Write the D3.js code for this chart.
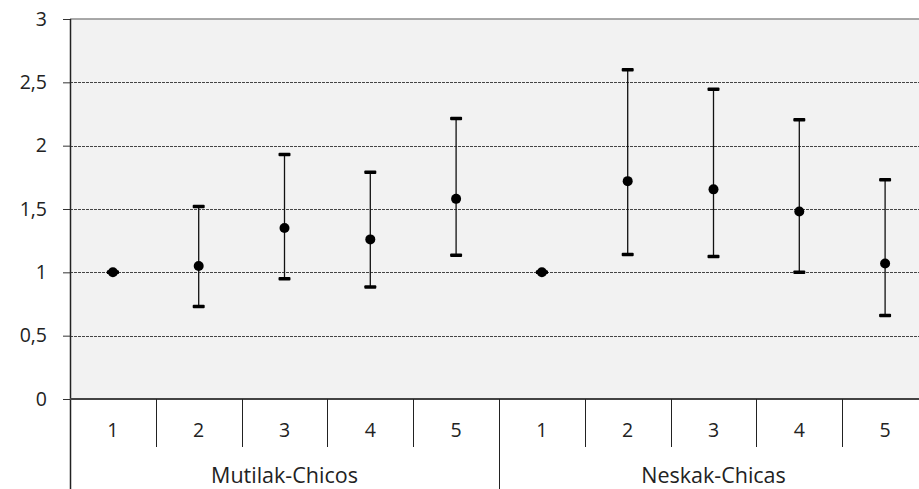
<!DOCTYPE html>
<html>
<head>
<meta charset="utf-8">
<script src="https://cdn.jsdelivr.net/npm/d3@7"></script>
<style>
  html, body { margin: 0; padding: 0; background: #fff; }
  svg { display: block; }
  text { font-family: "Open Sans", "Noto Sans", sans-serif; fill: #222; }
</style>
</head>
<body>
<svg id="chart" width="919" height="489"></svg>
<script>
// Groups and levels along the x axis
const groups = ["Mutilak-Chicos", "Neskak-Chicas"];
const levels = ["1", "2", "3", "4", "5"];

// Point estimate and interval bounds per level, one array per group
const mutilakMean = [1.0, 1.05, 1.35, 1.26, 1.58];
const mutilakLow  = [1.0, 0.73, 0.95, 0.885, 1.135];
const mutilakHigh = [1.0, 1.52, 1.93, 1.79, 2.215];

const neskakMean = [1.0, 1.72, 1.655, 1.48, 1.07];
const neskakLow  = [1.0, 1.14, 1.125, 1.0, 0.66];
const neskakHigh = [1.0, 2.6, 2.445, 2.205, 1.73];

// Y axis tick values
const yTicks = [0, 0.5, 1, 1.5, 2, 2.5, 3];

const means = [mutilakMean, neskakMean];
const lows = [mutilakLow, neskakLow];
const highs = [mutilakHigh, neskakHigh];

const rows = [];
groups.forEach((g, gi) => {
  levels.forEach((l, li) => {
    rows.push({ key: g + "|" + l, group: g, level: l,
      mean: means[gi][li], low: lows[gi][li], high: highs[gi][li] });
  });
});

const svg = d3.select("#chart");
const plotLeft = 70, plotTop = 19, plotBottom = 399, plotRight = 928;
const fontSize = 19.5;

const x = d3.scaleBand().domain(rows.map(d => d.key)).range([plotLeft, plotRight]).padding(0);
const y = d3.scaleLinear().domain([0, 3]).range([plotBottom, plotTop]);

// Plot background
svg.append("rect")
  .attr("x", plotLeft).attr("y", plotTop)
  .attr("width", plotRight - plotLeft).attr("height", plotBottom - plotTop)
  .attr("fill", "#f2f2f2");

// Top border
svg.append("line")
  .attr("x1", plotLeft).attr("x2", plotRight)
  .attr("y1", y(3)).attr("y2", y(3))
  .attr("stroke", "#8c8c8c").attr("stroke-width", 1.5);

// Dashed gridlines
svg.append("g").selectAll("line")
  .data(yTicks.filter(v => v > 0 && v < 3))
  .join("line")
  .attr("x1", plotLeft).attr("x2", plotRight)
  .attr("y1", d => Math.round(y(d)) + 0.5).attr("y2", d => Math.round(y(d)) + 0.5)
  .attr("stroke", "#444").attr("stroke-width", 1)
  .attr("stroke-dasharray", "3,1");

// Y axis
const fmt = v => String(v).replace(".", ",");
const yAxis = svg.append("g")
  .attr("transform", `translate(${plotLeft},0)`)
  .call(d3.axisLeft(y).tickValues(yTicks).tickFormat(fmt).tickSize(7).tickPadding(16));
yAxis.select(".domain").remove();
yAxis.selectAll(".tick line").attr("stroke", "#333");
yAxis.attr("font-size", fontSize).attr("font-family", '"Open Sans", "Noto Sans", sans-serif');
yAxis.selectAll(".tick text").attr("fill", "#222");

// Left axis line, running down through the category area
svg.append("line")
  .attr("x1", plotLeft + 0.5).attr("x2", plotLeft + 0.5)
  .attr("y1", plotTop).attr("y2", 489)
  .attr("stroke", "#222").attr("stroke-width", 1.5);

// Bottom axis line
svg.append("line")
  .attr("x1", plotLeft).attr("x2", plotRight)
  .attr("y1", plotBottom).attr("y2", plotBottom)
  .attr("stroke", "#444").attr("stroke-width", 2);

// Separators between levels
const catG = svg.append("g").attr("font-size", fontSize);
rows.forEach((d, i) => {
  if (i === 0) return;
  const xs = Math.round(x(d.key)) + 0.5;
  const isGroupStart = d.level === levels[0];
  catG.append("line")
    .attr("x1", xs).attr("x2", xs)
    .attr("y1", plotBottom).attr("y2", isGroupStart ? 489 : 447)
    .attr("stroke", "#222").attr("stroke-width", 1);
});

// Level labels
catG.selectAll("text.level")
  .data(rows)
  .join("text")
  .attr("class", "level")
  .attr("x", d => x(d.key) + x.bandwidth() / 2)
  .attr("y", 437)
  .attr("text-anchor", "middle")
  .text(d => d.level);

// Group labels
catG.selectAll("text.group")
  .data(groups)
  .join("text")
  .attr("class", "group")
  .attr("x", g => {
    const ks = rows.filter(r => r.group === g).map(r => r.key);
    return (x(ks[0]) + x(ks[ks.length - 1]) + x.bandwidth()) / 2;
  })
  .attr("y", 483)
  .attr("text-anchor", "middle")
  .attr("font-size", 21.5)
  .text(g => g);

// Error bars
const eb = svg.append("g");
const cx = d => x(d.key) + x.bandwidth() / 2;
eb.selectAll("line.stem")
  .data(rows)
  .join("line")
  .attr("class", "stem")
  .attr("x1", cx).attr("x2", cx)
  .attr("y1", d => y(d.low)).attr("y2", d => y(d.high))
  .attr("stroke", "#111").attr("stroke-width", 1.3);

const capW = 12, capH = 3.5;
["low", "high"].forEach(k => {
  eb.selectAll("rect.cap-" + k)
    .data(rows)
    .join("rect")
    .attr("class", "cap-" + k)
    .attr("x", d => cx(d) - capW / 2)
    .attr("y", d => y(d[k]) - capH / 2)
    .attr("width", capW).attr("height", capH)
    .attr("rx", 1)
    .attr("fill", "#000");
});

// Point estimates
eb.selectAll("circle")
  .data(rows)
  .join("circle")
  .attr("cx", cx)
  .attr("cy", d => y(d.mean))
  .attr("r", 5)
  .attr("fill", "#000");
</script>
</body>
</html>
